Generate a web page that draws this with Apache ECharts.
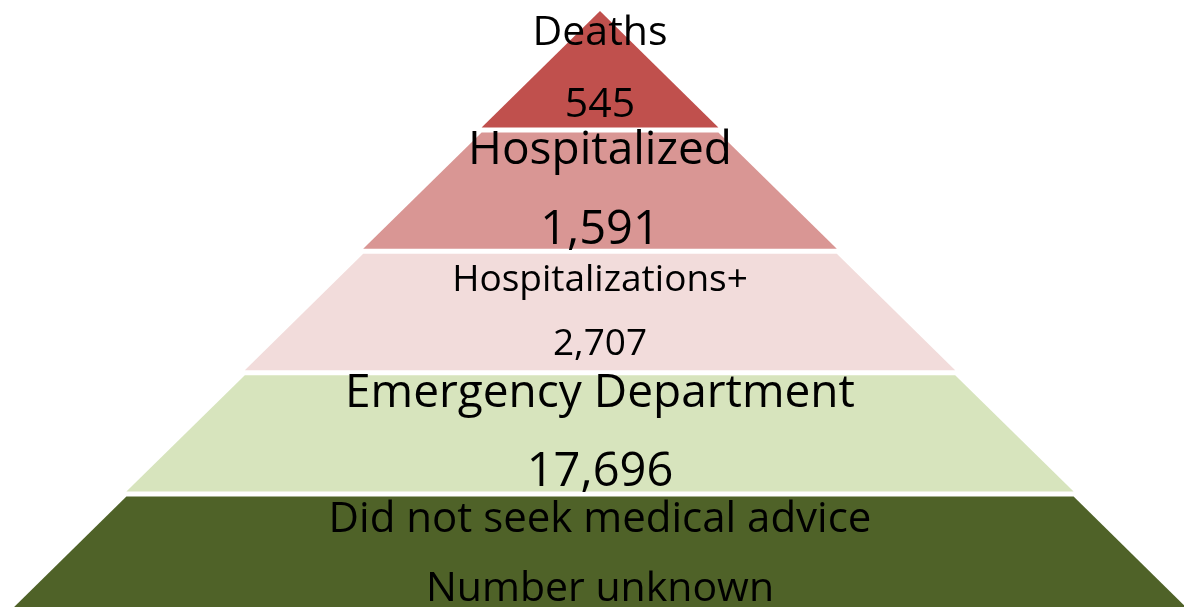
<!DOCTYPE html>
<html>
<head>
<meta charset="utf-8">
<script src="https://cdn.jsdelivr.net/npm/echarts@6/dist/echarts.min.js"></script>
<style>
    html, body { margin: 0; padding: 0; background: #fff; }
    #chart { width: 1184px; height: 607px; }
</style>
</head>
<body>
<div id="chart"></div>
<script>
    // pyramid tiers, top to bottom
    var tiers = ['Deaths', 'Hospitalized', 'Hospitalizations+', 'Emergency Department', 'Did not seek medical advice'];
    var counts = ['545', '1,591', '2,707', '17,696', 'Number unknown'];
    // pyramid level of each tier (1 = apex), sets the width of each step
    var levels = [1, 2, 3, 4, 5];

    var colors = ['#C0504D', '#D99694', '#F2DCDB', '#D7E4BD', '#4F6228'];
    var nameSizes = [41, 46, 37, 46, 42];
    var countSizes = [41, 47, 37, 47, 41];
    var lineGaps = [72, 80, 64, 79, 70];

    var myChart = echarts.init(document.getElementById('chart'));

    var data = tiers.map(function (name, i) {
        return {
            name: name,
            value: levels[i],
            itemStyle: { color: colors[i] },
            label: {
                formatter: '{t|' + name + '}\n{v|' + counts[i] + '}',
                rich: {
                    t: { fontSize: nameSizes[i], lineHeight: lineGaps[i], color: '#000', fontFamily: 'Open Sans' },
                    v: { fontSize: countSizes[i], lineHeight: lineGaps[i], color: '#000', fontFamily: 'Open Sans' }
                }
            }
        };
    });

    myChart.setOption({
        animation: false,
        series: [{
            type: 'funnel',
            sort: 'ascending',
            left: 8,
            top: 11,
            width: 1184,
            height: 602,
            min: 0,
            max: 5,
            minSize: '0%',
            maxSize: '100%',
            gap: 5,
            label: { show: true, position: 'inside' },
            labelLine: { show: false },
            itemStyle: { borderWidth: 0 },
            emphasis: { disabled: true },
            data: data
        }]
    });
</script>
</body>
</html>
